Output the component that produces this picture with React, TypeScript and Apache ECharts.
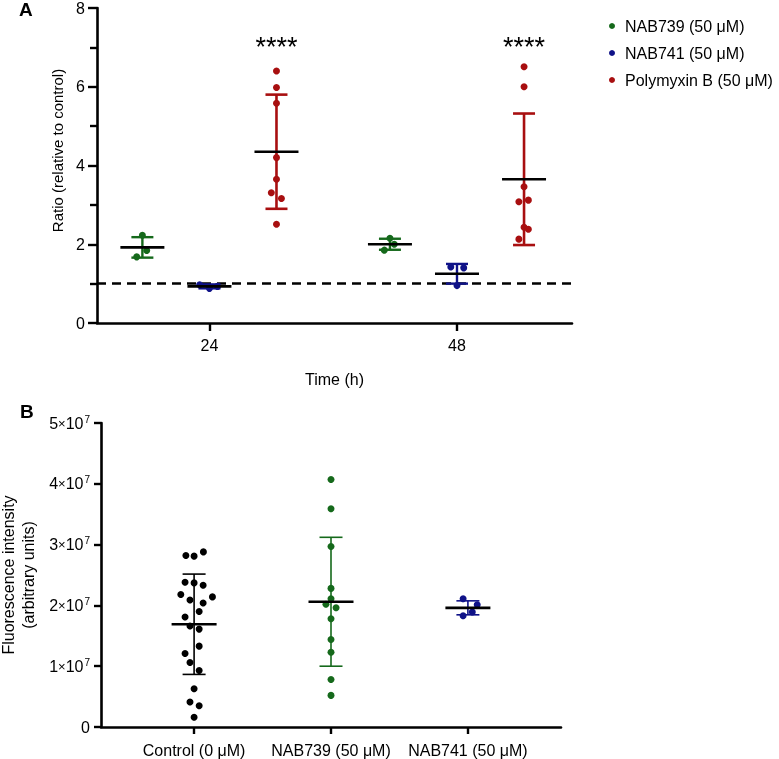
import React, { useEffect, useRef } from "react";
import * as echarts from "echarts";

// ---------- Panel A data ----------
const timePoints = [24, 48];
const seriesNamesA = ["NAB739 (50 μM)", "NAB741 (50 μM)", "Polymyxin B (50 μM)"];
const colorsA = ["#15691b", "#0f1288", "#a80f10"];
const groupOffsetHours = [-6.5, 0, 6.5];

// ratio values per compound / time point
const nab739At24 = [2.23, 1.84, 1.68];
const nab739At48 = [2.15, 2.0, 1.85];
const nab741At24 = [0.97, 0.88, 0.93];
const nab741At48 = [1.42, 1.4, 0.95];
const polymyxinAt24 = [6.4, 5.98, 5.58, 4.2, 3.65, 3.31, 3.16, 2.51];
const polymyxinAt48 = [6.51, 6.0, 3.46, 3.08, 3.12, 2.43, 2.38, 2.13];

// horizontal jitter of the dots (hours)
const nab739Jitter = [0, 0.42, -0.55];
const nab741Jitter = [-0.6, 0.65, 0];
const nab741Jitter24 = [-0.95, 0, 0.78];
const polymyxinJitter24 = [0, 0, 0, 0, 0, -0.5, 0.48, 0];
const polymyxinJitter48 = [0, 0, 0, -0.5, 0.42, 0, 0.42, -0.5];

// mean and SD per compound at [24 h, 48 h]
const meansA = [
  [1.92, 2.0],
  [0.93, 1.25],
  [4.35, 3.65],
];
const sdsA = [
  [0.26, 0.14],
  [0.05, 0.25],
  [1.45, 1.67],
];
const significanceLabel = "****";
const significanceLevel = 7.02;
const referenceRatio = 1;
const yTicksA = [0, 8, 2];

// ---------- Panel B data ----------
const categoriesB = ["Control (0 μM)", "NAB739 (50 μM)", "NAB741 (50 μM)"];
const colorsB = ["#000000", "#15691b", "#0f1288"];
const controlValues = [
  2.82e7, 2.81e7, 2.88e7, 2.38e7, 2.37e7, 2.33e7, 2.18e7, 2.09e7, 2.04e7, 2.14e7, 1.9e7,
  1.81e7, 1.66e7, 1.61e7, 1.33e7, 1.21e7, 1.06e7, 0.93e7, 0.63e7, 0.41e7, 0.35e7, 0.16e7,
];
const controlJitter = [
  -0.06, 0, 0.068, -0.066, 0, 0.066, -0.097, -0.03, 0.066, 0.134, 0.037, -0.066, -0.03, 0.037,
  0.037, -0.066, -0.03, 0.037, 0, -0.03, 0.037, 0,
];
const nab739Values = [4.07e7, 3.59e7, 2.97e7, 2.28e7, 2.11e7, 2.02e7, 1.96e7, 1.78e7, 1.44e7, 1.23e7, 0.78e7, 0.52e7];
const nab739JitterB = [0, 0, 0, 0, 0, -0.037, 0.037, 0, 0, 0, 0, 0];
const nab741Values = [2.11e7, 2.01e7, 1.89e7, 1.83e7];
const nab741JitterB = [-0.035, 0.068, 0.032, -0.035];
const meansB = [1.69e7, 2.06e7, 1.96e7];
const sdsB = [0.825e7, 1.06e7, 0.115e7];
const yTicksB = [0, 5e7, 1e7];

const FONT = "'Liberation Sans', Arial, Helvetica, sans-serif";

function errorBars(xi: number, yi: number, data: number[][], color: string, lw: number, capHalf: number) {
  return {
    type: "custom",
    xAxisIndex: xi,
    yAxisIndex: yi,
    silent: true,
    z: 2,
    data,
    encode: { x: 0, y: 1 },
    renderItem: (_p: any, api: any) => {
      const x = api.value(0);
      const m = api.value(1);
      const s = api.value(2);
      const t = api.coord([x, m + s]);
      const b = api.coord([x, m - s]);
      const st = { stroke: color, lineWidth: lw };
      return {
        type: "group",
        children: [
          { type: "line", shape: { x1: t[0], y1: t[1], x2: b[0], y2: b[1] }, style: st },
          { type: "line", shape: { x1: t[0] - capHalf, y1: t[1], x2: t[0] + capHalf, y2: t[1] }, style: st },
          { type: "line", shape: { x1: b[0] - capHalf, y1: b[1], x2: b[0] + capHalf, y2: b[1] }, style: st },
        ],
      };
    },
  };
}

function meanLines(xi: number, yi: number, data: number[][], half: number) {
  return {
    type: "custom",
    xAxisIndex: xi,
    yAxisIndex: yi,
    silent: true,
    z: 5,
    data,
    encode: { x: 0, y: 1 },
    renderItem: (_p: any, api: any) => {
      const c = api.coord([api.value(0), api.value(1)]);
      return {
        type: "line",
        shape: { x1: c[0] - half, y1: c[1], x2: c[0] + half, y2: c[1] },
        style: { stroke: "#000", lineWidth: 2.6 },
      };
    },
  };
}

function pts(values: number[], jitter: number[], center: number) {
  return values.map((v, i) => [center + jitter[i], v]);
}

export default function App() {
  const ref = useRef<HTMLDivElement>(null);
  useEffect(() => {
    if (!ref.current) return;
    const chart = echarts.init(ref.current, undefined, { renderer: "svg" });

    const xA = (t: number, s: number) => timePoints[t] + groupOffsetHours[s];
    const aPoints = [
      [...pts(nab739At24, nab739Jitter, xA(0, 0)), ...pts(nab739At48, nab739Jitter, xA(1, 0))],
      [...pts(nab741At24, nab741Jitter24, xA(0, 1)), ...pts(nab741At48, nab741Jitter, xA(1, 1))],
      [...pts(polymyxinAt24, polymyxinJitter24, xA(0, 2)), ...pts(polymyxinAt48, polymyxinJitter48, xA(1, 2))],
    ];
    const aStats = seriesNamesA.map((_, s) => timePoints.map((_t, t) => [xA(t, s), meansA[s][t], sdsA[s][t]]));
    const bPoints = [
      pts(controlValues, controlJitter, 0),
      pts(nab739Values, nab739JitterB, 1),
      pts(nab741Values, nab741JitterB, 2),
    ];
    const bStats = categoriesB.map((_, i) => [i, meansB[i], sdsB[i]]);

    const axisLine = { onZero: false, lineStyle: { color: "#000", width: 2.6 } };
    const tickStyle = { lineStyle: { color: "#000", width: 2.4 } };

    const series: any[] = [];
    seriesNamesA.forEach((_name, s) => {
      series.push(errorBars(0, 0, aStats[s], colorsA[s], s === 2 ? 2.6 : 2.4, 11));
    });
    seriesNamesA.forEach((name, s) => {
      series.push({
        type: "scatter",
        name,
        xAxisIndex: 0,
        yAxisIndex: 0,
        data: aPoints[s],
        symbol: "circle",
        symbolSize: 7,
        itemStyle: { color: colorsA[s], opacity: 1 },
        z: 3,
      });
    });
    seriesNamesA.forEach((_n, s) => series.push(meanLines(0, 0, aStats[s], 22)));
    series.push({
      type: "scatter",
      name: "sig",
      xAxisIndex: 0,
      yAxisIndex: 0,
      symbolSize: 0,
      silent: true,
      itemStyle: { opacity: 1 },
      data: [
        [xA(0, 2), significanceLevel],
        [xA(1, 2), significanceLevel],
      ],
      label: {
        show: true,
        position: "inside",
        formatter: significanceLabel,
        fontSize: 27,
        fontFamily: FONT,
        color: "#000",
        opacity: 1,
      },
      markLine: {
        silent: true,
        symbol: ["none", "none"],
        label: { show: false },
        lineStyle: { type: [9, 6], width: 2.6, color: "#000", opacity: 1 },
        data: [{ yAxis: referenceRatio }],
        z: 1,
      },
    });

    categoriesB.forEach((c, i) => {
      series.push(errorBars(1, 1, [bStats[i]], colorsB[i], 1.6, 11.5));
    });
    categoriesB.forEach((c, i) => {
      series.push({
        type: "scatter",
        name: "B-" + c,
        xAxisIndex: 1,
        yAxisIndex: 1,
        data: bPoints[i],
        symbol: "circle",
        symbolSize: 7,
        itemStyle: { color: colorsB[i], opacity: 1 },
        z: 3,
      });
    });
    series.push(meanLines(1, 1, bStats, 22.5));

    chart.setOption({
      animation: false,
      textStyle: { fontFamily: FONT, color: "#000" },
      legend: {
        data: seriesNamesA,
        orient: "vertical",
        left: 604,
        top: 12,
        icon: "circle",
        itemWidth: 6,
        itemHeight: 6,
        itemGap: 9,
        textStyle: { fontSize: 16, color: "#000", fontFamily: FONT, lineHeight: 18, padding: [0, 0, 0, 5] },
        selectedMode: false,
      },
      graphic: [
        { type: "text", left: 19, top: 0, style: { text: "A", font: `bold 19px ${FONT}`, fill: "#000" } },
        { type: "text", left: 20, top: 402, style: { text: "B", font: `bold 19px ${FONT}`, fill: "#000" } },
      ],
      grid: [
        { left: 97, top: 8, width: 475, height: 315, outerBoundsMode: "none", containLabel: false },
        { left: 101, top: 423, width: 460, height: 304, outerBoundsMode: "none", containLabel: false },
      ],
      xAxis: [
        {
          type: "value",
          gridIndex: 0,
          min: 13.1,
          max: 59.15,
          name: "Time (h)",
          nameLocation: "middle",
          nameGap: 48,
          nameTextStyle: { fontSize: 16, color: "#000", fontFamily: FONT },
          axisLine,
          splitLine: { show: false },
          axisTick: { show: true, length: 8, customValues: timePoints, ...tickStyle },
          axisLabel: { customValues: timePoints, fontSize: 16, color: "#000", margin: 14, fontFamily: FONT },
        },
        {
          type: "value",
          gridIndex: 1,
          min: -0.68,
          max: 2.68,
          axisLine,
          splitLine: { show: false },
          axisTick: { show: true, length: 7, customValues: [0, 1, 2], ...tickStyle },
          axisLabel: {
            customValues: [0, 1, 2],
            formatter: (v: number) => categoriesB[Math.round(v)] ?? "",
            fontSize: 16,
            color: "#000",
            margin: 15,
            fontFamily: FONT,
          },
        },
      ],
      yAxis: [
        {
          type: "value",
          gridIndex: 0,
          min: yTicksA[0],
          max: yTicksA[1],
          interval: yTicksA[2],
          name: "Ratio (relative to control)",
          nameLocation: "middle",
          nameGap: 32,
          nameTextStyle: { fontSize: 15, color: "#000", fontFamily: FONT, padding: [0, 0, 0, 30] },
          axisLine: { show: true, ...axisLine },
          splitLine: { show: false },
          axisTick: { show: true, length: 9, ...tickStyle },
          minorTick: { show: true, splitNumber: 2, length: 7, lineStyle: { color: "#000", width: 2.4 } },
          axisLabel: { fontSize: 16, color: "#000", margin: 12, fontFamily: FONT },
        },
        {
          type: "value",
          gridIndex: 1,
          min: yTicksB[0],
          max: yTicksB[1],
          interval: yTicksB[2],
          name: "Fluorescence intensity\n(arbitrary units)",
          nameLocation: "middle",
          nameGap: 63,
          nameTextStyle: { fontSize: 16, color: "#000", fontFamily: FONT, lineHeight: 20 },
          axisLine: { show: true, ...axisLine },
          splitLine: { show: false },
          axisTick: { show: true, length: 7, ...tickStyle },
          axisLabel: {
            margin: 11,
            fontFamily: FONT,
            formatter: (v: number) => (v === 0 ? "{b|0}" : `{b|${Math.round(v / 1e7)}}{x|×}{b|10}{s|7}`),
            rich: {
              b: { fontSize: 16, color: "#000", fontFamily: FONT, lineHeight: 18 },
              x: { fontSize: 13, color: "#000", fontFamily: FONT, lineHeight: 18 },
              s: { fontSize: 10, color: "#000", fontFamily: FONT, verticalAlign: "top", lineHeight: 18, padding: [0, 0, 7, 1] },
            },
          },
        },
      ],
      series,
    });
    return () => chart.dispose();
  }, []);
  return <div ref={ref} style={{ position: "fixed", left: 0, top: 0, width: 779, height: 759 }} />;
}
